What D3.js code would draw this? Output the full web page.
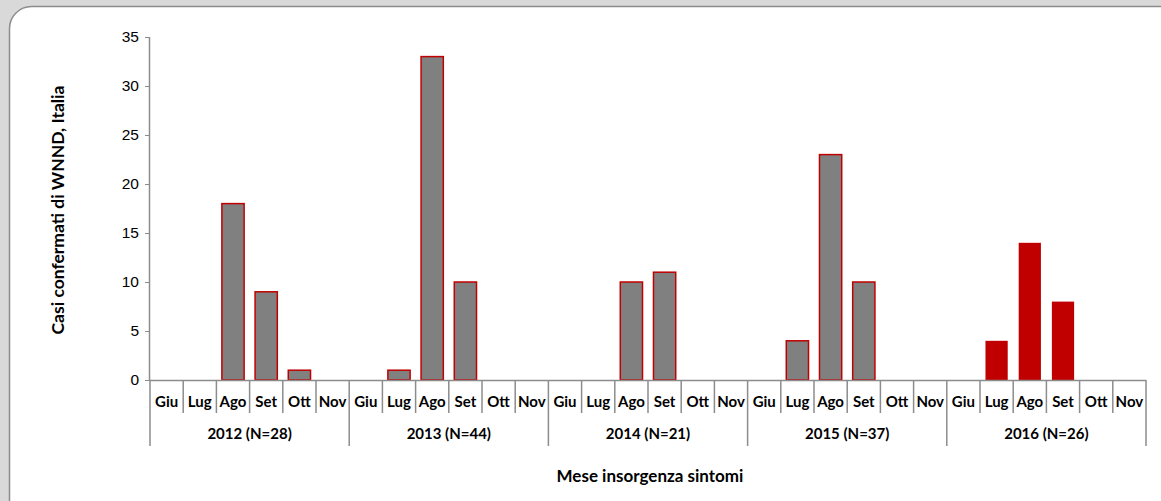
<!DOCTYPE html>
<html>
<head>
<meta charset="utf-8">
<script src="https://cdn.jsdelivr.net/npm/d3@7"></script>
<style>
  body { margin: 0; background: #d9d9d9; }
  svg { display: block; font-family: Lato, "Open Sans", sans-serif; }
</style>
</head>
<body>
<svg width="1161" height="501"></svg>
<script>
// data
const years = ["2012 (N=28)", "2013 (N=44)", "2014 (N=21)", "2015 (N=37)", "2016 (N=26)"];
const months = ["Giu", "Lug", "Ago", "Set", "Ott", "Nov"];
const cases2012 = [0, 0, 18, 9, 1, 0];
const cases2013 = [0, 1, 33, 10, 0, 0];
const cases2014 = [0, 0, 10, 11, 0, 0];
const cases2015 = [0, 4, 23, 10, 0, 0];
const cases2016 = [0, 4, 14, 8, 0, 0];
const yTicks = [0, 5, 10, 15, 20, 25, 30, 35];

const series = [cases2012, cases2013, cases2014, cases2015, cases2016];
const rows = [];
series.forEach((vals, i) => vals.forEach((v, j) => rows.push({
  year: years[i], yi: i, month: months[j], key: i + "-" + j, value: v
})));

const svg = d3.select("svg");

// panel
svg.append("rect")
  .attr("x", 9.5).attr("y", 6.5)
  .attr("width", 1200).attr("height", 600)
  .attr("rx", 22)
  .attr("fill", "#fff")
  .attr("stroke", "#8c8c8c")
  .attr("stroke-width", 1.5);

const plotL = 150, plotR = 1146, plotT = 37, plotB = 380;

const x = d3.scaleBand()
  .domain(rows.map(d => d.key))
  .range([plotL, plotR])
  .paddingInner(0.33)
  .paddingOuter(0.165);

const y = d3.scaleLinear().domain([0, 35]).range([plotB, plotT]);

// y axis
const yAxis = svg.append("g")
  .attr("transform", `translate(${plotL},0)`)
  .call(d3.axisLeft(y).tickValues(yTicks).tickSize(5).tickPadding(6));
yAxis.selectAll("path, line").attr("stroke", "#8c8c8c");
yAxis.select(".domain").attr("d", `M-0.5,${plotT}V${plotB}`).attr("stroke-width", 1.5);
yAxis.selectAll("text").attr("font-size", 15.5).attr("fill", "#000");

// bars
svg.append("g")
  .selectAll("rect")
  .data(rows.filter(d => d.value > 0))
  .join("rect")
  .attr("x", d => x(d.key))
  .attr("y", d => y(d.value))
  .attr("width", x.bandwidth())
  .attr("height", d => y(0) - y(d.value))
  .attr("fill", d => d.yi === 4 ? "#c00000" : "#808080")
  .attr("stroke", d => d.yi === 4 ? "none" : "#c00000")
  .attr("stroke-width", 1.5);

// x axis line
svg.append("line")
  .attr("x1", plotL).attr("x2", plotR)
  .attr("y1", plotB + 0.5).attr("y2", plotB + 0.5)
  .attr("stroke", "#8c8c8c").attr("stroke-width", 1.5);

// month separators and labels
const step = x.step();
const sepX = d3.range(rows.length + 1).map(i => plotL + i * step);
svg.append("g")
  .selectAll("line")
  .data(sepX)
  .join("line")
  .attr("x1", d => d).attr("x2", d => d)
  .attr("y1", plotB)
  .attr("y2", (d, i) => i % 6 === 0 ? 446 : 413)
  .attr("stroke", "#8c8c8c").attr("stroke-width", 1.5);

svg.append("g")
  .selectAll("text")
  .data(rows)
  .join("text")
  .attr("x", d => x(d.key) + x.bandwidth() / 2)
  .attr("y", 407)
  .attr("text-anchor", "middle")
  .attr("font-size", 15)
  .attr("font-weight", "bold")
  .text(d => d.month);

svg.append("g")
  .selectAll("text")
  .data(years)
  .join("text")
  .attr("x", (d, i) => plotL + (i * 6 + 3) * step)
  .attr("y", 439)
  .attr("text-anchor", "middle")
  .attr("font-size", 15)
  .attr("font-weight", "bold")
  .text(d => d);

// axis titles
svg.append("text")
  .attr("x", 650).attr("y", 482)
  .attr("text-anchor", "middle")
  .attr("font-size", 17)
  .attr("font-weight", "bold")
  .text("Mese insorgenza sintomi");

svg.append("text")
  .attr("transform", "translate(64,210) rotate(-90)")
  .attr("text-anchor", "middle")
  .attr("font-size", 17.5)
  .attr("font-weight", "bold")
  .text("Casi confermati di WNND, Italia");
</script>
</body>
</html>
